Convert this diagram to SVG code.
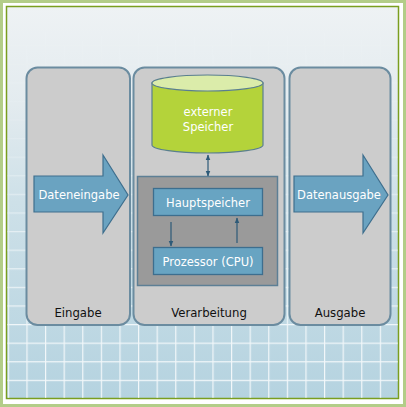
<svg xmlns="http://www.w3.org/2000/svg" width="406" height="407" viewBox="0 0 406 407">
<defs>
<style>
.panel{fill:#cccccc;stroke:#6b8ca0;stroke-width:2}
.lbl{font-family:"DejaVu Sans",Verdana,sans-serif;font-size:11.7px;fill:#111;text-anchor:middle}
.wt{font-family:"DejaVu Sans",Verdana,sans-serif;font-size:11.5px;fill:#ffffff;text-anchor:middle}
.blue{fill:#68a4c2;stroke:#3d6e8e;stroke-width:1.3}
.con{stroke:#2d5a78;stroke-width:1.2;fill:none}
</style>
<linearGradient id="bg" x1="0" y1="0" x2="0" y2="1">
<stop offset="0" stop-color="#eef2f4"/>
<stop offset="0.25" stop-color="#e3ebef"/>
<stop offset="0.5" stop-color="#cde0e8"/>
<stop offset="1" stop-color="#b5d3e0"/>
</linearGradient>
<linearGradient id="fade" x1="0" y1="0" x2="0" y2="1">
<stop offset="0" stop-color="#fff" stop-opacity="0"/>
<stop offset="0.3" stop-color="#fff" stop-opacity="0.12"/>
<stop offset="0.55" stop-color="#fff" stop-opacity="0.55"/>
<stop offset="0.8" stop-color="#fff" stop-opacity="0.9"/>
<stop offset="1" stop-color="#fff" stop-opacity="1"/>
</linearGradient>
<mask id="gm"><rect x="7" y="7" width="392" height="392" fill="url(#fade)"/></mask>
<pattern id="grid" x="7.8" y="7.8" width="18.6" height="18.6" patternUnits="userSpaceOnUse">
<path d="M0.6,0 V18.6 M0,0.6 H18.6" stroke="#ffffff" stroke-width="1.2" fill="none"/>
</pattern>
<marker id="ah" viewBox="0 0 10 10" refX="9" refY="5" markerWidth="5" markerHeight="5" orient="auto-start-reverse">
<path d="M0,1 L10,5 L0,9 Z" fill="#2d5a78"/>
</marker>
</defs>
<g id="background">
<rect x="0" y="0" width="406" height="407" fill="#ffffff"/>
<rect x="1.5" y="1.5" width="403" height="404" fill="none" stroke="#b3cd88" stroke-width="3"/>
<rect x="6.5" y="6.5" width="392" height="392" fill="url(#bg)" stroke="#7a9e1f" stroke-width="1.5"/>
<rect x="7.3" y="7.3" width="390.5" height="390.5" fill="url(#grid)" mask="url(#gm)" opacity="0.85"/>
</g>
<g id="eingabe">
<rect class="panel" x="26.5" y="67.5" width="103.5" height="257.5" rx="11"/>
<text class="lbl" x="78" y="317">Eingabe</text>
</g>
<g id="verarbeitung">
<rect class="panel" x="133.5" y="67.5" width="151" height="257.5" rx="11"/>
<text class="lbl" x="209" y="317">Verarbeitung</text>
</g>
<g id="ausgabe">
<rect class="panel" x="289.5" y="67.5" width="101" height="257.5" rx="11"/>
<text class="lbl" x="340" y="317">Ausgabe</text>
</g>
<g id="dateneingabe">
<polygon points="34,176 103,176 103,155 128,195 103,233 103,212 34,212" fill="#6aa3c1" stroke="#3e6f8e" stroke-width="1.2"/>
<text class="wt" x="79" y="199" font-size="11.8">Dateneingabe</text>
</g>
<g id="datenausgabe">
<polygon points="294,176 363,176 363,155 388,195 363,233 363,212 294,212" fill="#6aa3c1" stroke="#3e6f8e" stroke-width="1.2"/>
<text class="wt" x="339" y="199" font-size="11.8">Datenausgabe</text>
</g>
<g id="externer-speicher">
<path d="M152,83 V145 A55.5,8 0 0 0 263,145 V83 Z" fill="#b4d33a" stroke="#5a7f8f" stroke-width="1.2"/>
<ellipse cx="207.5" cy="83" rx="55.5" ry="8" fill="#dbecaa" stroke="#5a7f8f" stroke-width="1.2"/>
<text class="wt" x="208" y="116">externer</text>
<text class="wt" x="208" y="131">Speicher</text>
</g>
<g id="rechner">
<rect x="137.5" y="176.5" width="140" height="109" fill="#9a9a9a" stroke="#5d7f95" stroke-width="1.5"/>
</g>
<g id="hauptspeicher">
<rect class="blue" x="153.5" y="188.5" width="109" height="27"/>
<text class="wt" x="208" y="207">Hauptspeicher</text>
</g>
<g id="prozessor">
<rect class="blue" x="153.5" y="247.5" width="109" height="27"/>
<text class="wt" x="208" y="266">Prozessor (CPU)</text>
</g>
<g id="connectors">
<line class="con" x1="208" y1="155" x2="208" y2="176" marker-start="url(#ah)" marker-end="url(#ah)"/>
<line class="con" x1="171" y1="222" x2="171" y2="246" marker-end="url(#ah)"/>
<line class="con" x1="237" y1="243" x2="237" y2="218" marker-end="url(#ah)"/>
</g>
</svg>
